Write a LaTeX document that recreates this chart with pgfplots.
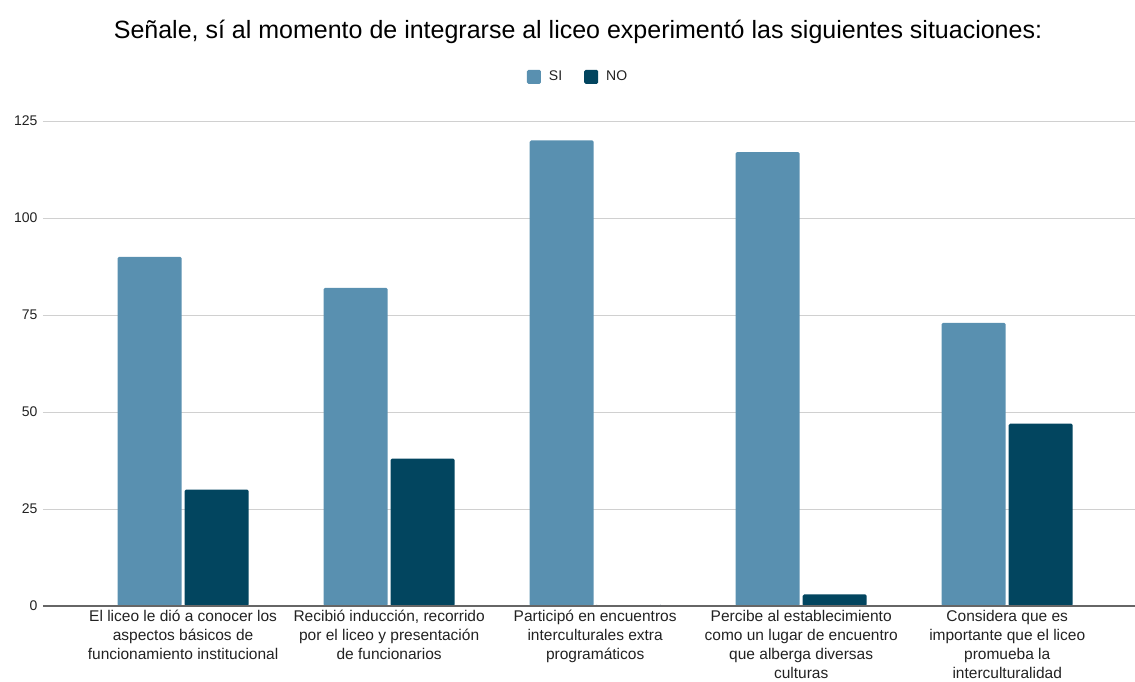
\documentclass[border=0pt]{standalone}
\usepackage{fontspec}
\setmainfont{Liberation Sans}
\usepackage{pgfplots}
\pgfplotsset{compat=1.18}
\definecolor{siC}{HTML}{5990B0}
\definecolor{noC}{HTML}{02455F}
\definecolor{gridC}{HTML}{D0D0D0}
\definecolor{txtC}{HTML}{222222}
\begin{document}
\begin{tikzpicture}
\useasboundingbox (-43bp,-76bp) rectangle (1092bp,606bp);
\begin{axis}[
  at={(0,0)}, anchor=south west,
  scale only axis, width=1092bp, height=485bp,
  ybar=3bp, bar width=64bp,
  xmin=-0.68, xmax=4.62,
  ymin=0, ymax=125,
  ytick={0,25,50,75,100,125},
  xtick={0,1,2,3,4},
  xticklabels={
    {El liceo le dió a conocer los\\aspectos básicos de\\funcionamiento institucional},
    {Recibió inducción, recorrido\\por el liceo y presentación\\de funcionarios},
    {Participó en encuentros\\interculturales extra\\programáticos},
    {Percibe al establecimiento\\como un lugar de encuentro\\que alberga diversas\\culturas},
    {Considera que es\\importante que el liceo\\promueba la\\interculturalidad}},
  xticklabel style={align=center, font=\fontsize{15.5bp}{19bp}\selectfont, text=txtC, anchor=north, yshift=-1bp},
  yticklabel style={font=\fontsize{14bp}{16bp}\selectfont, text=txtC, xshift=-2bp},
  /pgf/number format/assume math mode=true,
  ymajorgrids, grid style={gridC, line width=0.9bp},
  axis x line*=bottom, axis y line*=left,
  axis line style={draw=none},
  major tick length=0pt,
  legend style={at={(0.49,1.091)}, anchor=center, draw=none, legend columns=2,
    font=\fontsize{14bp}{16bp}\selectfont, text=txtC,
    /tikz/every even column/.append style={column sep=20bp},
    /tikz/every odd column/.append style={column sep=6bp}},
  legend image code/.code={\fill[#1, rounded corners=1.5bp] (0bp,-7bp) rectangle (14bp,7bp);},
]
\addplot[fill=siC, draw=none, rounded corners=1.5bp] coordinates {(0,90) (1,82) (2,120) (3,117) (4,73)};
\addplot[fill=noC, draw=none, rounded corners=1.5bp] coordinates {(0,30) (1,38) (2,0) (3,3) (4,47)};
\legend{SI, NO}
\draw[color=gray!80!black, line width=1.2bp] (rel axis cs:0,0) -- (rel axis cs:1,0);
\end{axis}
\node[font=\fontsize{25bp}{28bp}\selectfont, text=black] at (535bp,574bp) {Señale, sí al momento de integrarse al liceo experimentó las siguientes situaciones:};
\end{tikzpicture}
\end{document}
